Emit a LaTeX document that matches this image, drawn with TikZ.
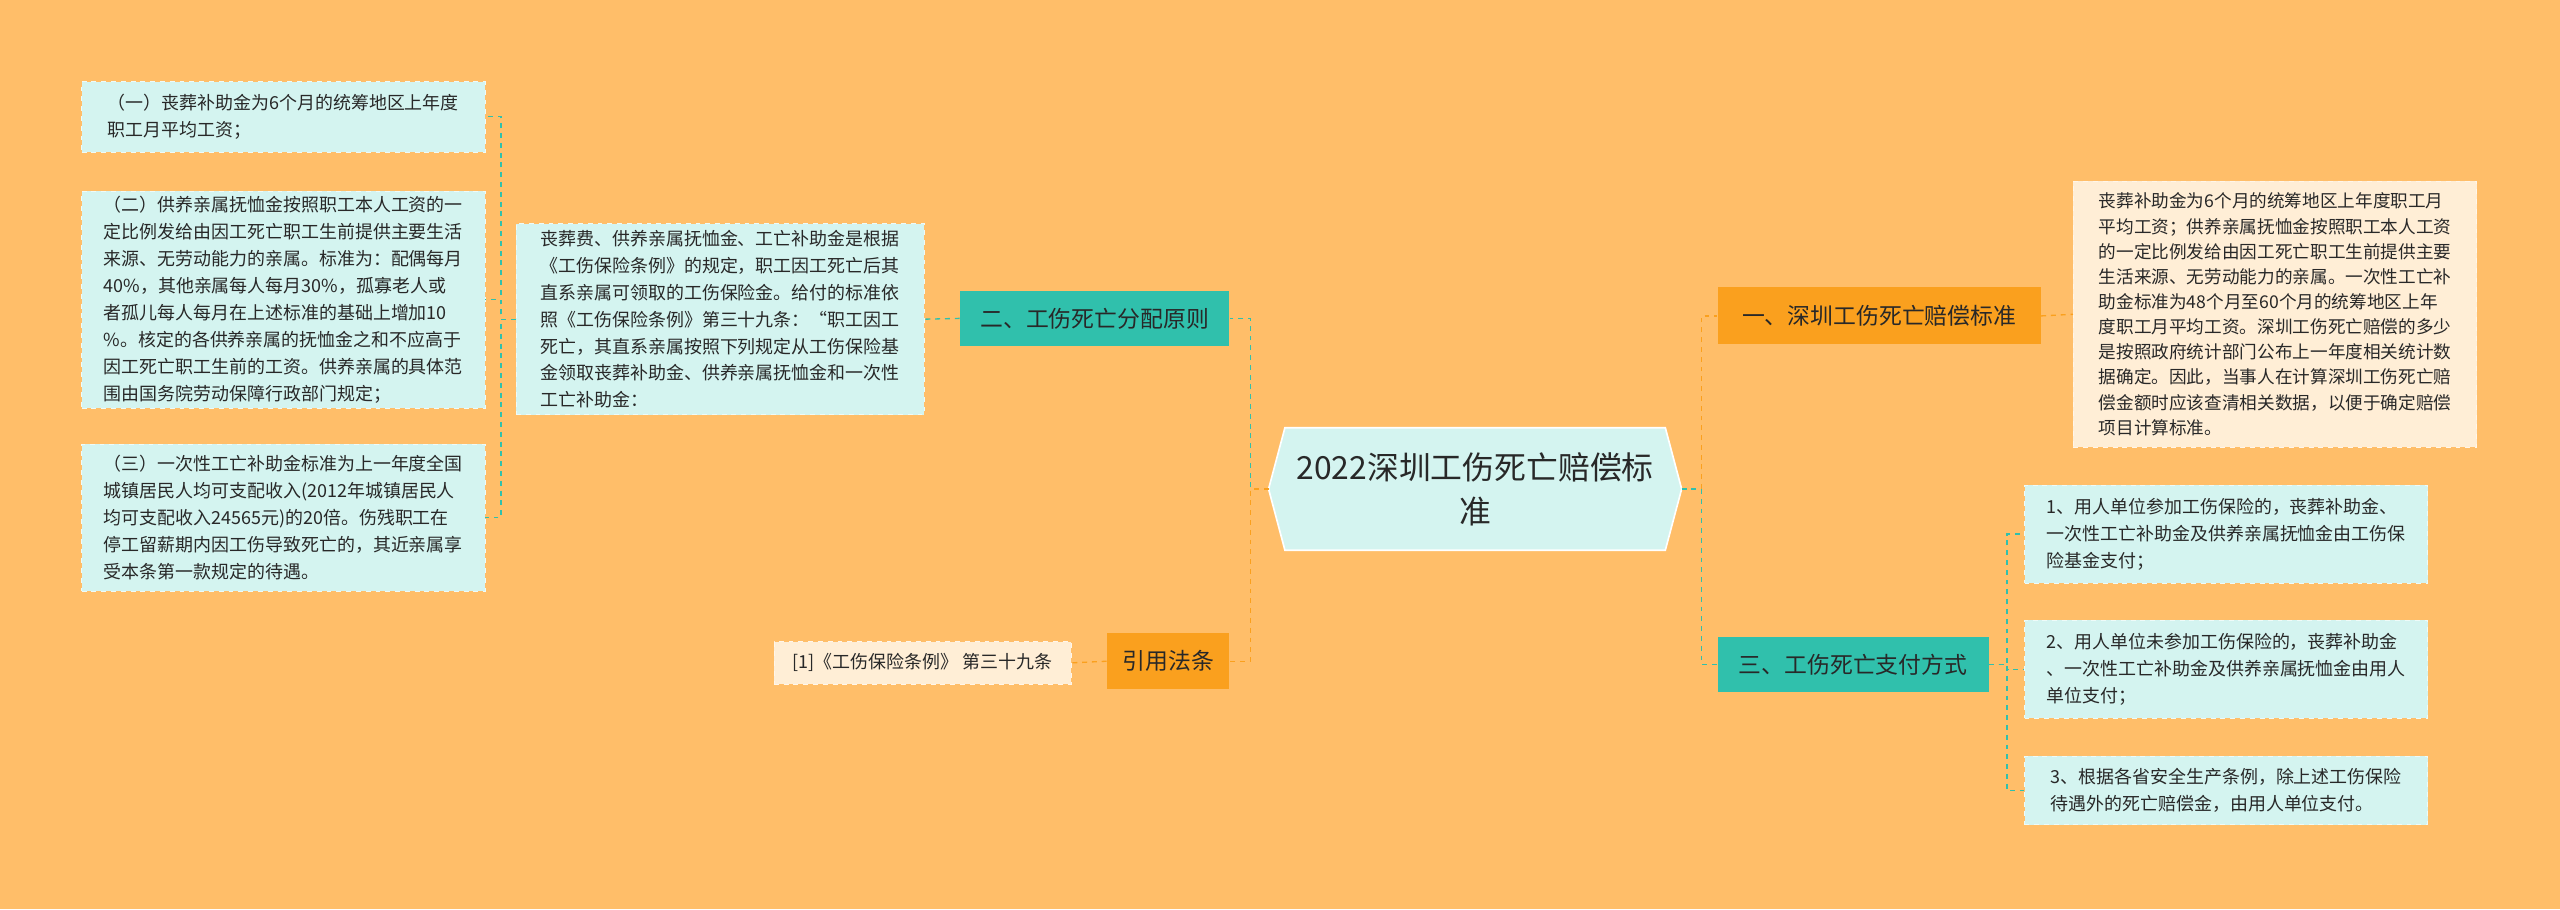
\documentclass[tikz,border=0pt]{standalone}
\usepackage{fontspec}
\setmainfont{Noto Sans CJK SC}
\definecolor{bg}{RGB}{255,190,105}
\definecolor{cy}{RGB}{212,244,240}
\definecolor{cr}{RGB}{255,238,214}
\definecolor{tl}{RGB}{48,192,172}
\definecolor{og}{RGB}{250,160,30}
\definecolor{tx}{RGB}{40,40,40}
\begin{document}
\begin{tikzpicture}[x=1pt,y=-1pt,
  leaf/.style={fill=cy,draw=white!60!cy,dashed,inner sep=0pt,font=\fontsize{11}{16.5}\selectfont,text=tx,align=left,anchor=center},
  crleaf/.style={leaf,fill=cr,draw=white!50!cr},
  tealb/.style={fill=tl,inner sep=0pt,font=\fontsize{14}{18}\selectfont,text=tx,anchor=center},
  orb/.style={fill=og,inner sep=0pt,font=\fontsize{14}{18}\selectfont,text=tx,anchor=center},
  tln/.style={draw=tl,dashed,line width=0.8pt},
  orn/.style={draw=og,dashed,line width=0.8pt}]
\fill[bg] (0,0) rectangle (1568,557);
\useasboundingbox (0,0) rectangle (1568,557);
% center
\coordinate (c) at (903.5,299.5);
\fill[cy,draw=white,line width=1pt] (777,299.5)--(787,262)--(1020,262)--(1030,299.5)--(1020,337)--(787,337)--cycle;
\node[font=\fontsize{19.5}{27}\selectfont,text=tx,align=center,inner sep=0pt] (center) at (c) {2022深圳工伤死亡赔偿标\\准};
\coordinate (cl) at (777,299.5);
\coordinate (cr) at (1030,299.5);
% branches
\node[tealb,minimum width=165pt,minimum height=34pt] (b2) at (670.5,195) {二、工伤死亡分配原则};
\node[orb,minimum width=75pt,minimum height=34pt] (b4) at (715.5,405) {引用法条};
\node[orb,minimum width=198pt,minimum height=35pt] (b1) at (1151,193.5) {一、深圳工伤死亡赔偿标准};
\node[tealb,minimum width=166pt,minimum height=34pt] (b3) at (1135,407) {三、工伤死亡支付方式};
% left description
\node[leaf,minimum width=250pt,minimum height=117pt] (d2) at (441,195.5) {丧葬费、供养亲属抚恤金、工亡补助金是根据\\《工伤保险条例》的规定，职工因工死亡后其\\直系亲属可领取的工伤保险金。给付的标准依\\照《工伤保险条例》第三十九条：“职工因工\\死亡，其直系亲属按照下列规定从工伤保险基\\金领取丧葬补助金、供养亲属抚恤金和一次性\\工亡补助金：};
\node[leaf,minimum width=247pt,minimum height=43pt] (l1) at (173.5,71.5) {（一）丧葬补助金为6个月的统筹地区上年度\\职工月平均工资；};
\node[leaf,minimum width=247pt,minimum height=133pt] (l2) at (173.5,183.5) {（二）供养亲属抚恤金按照职工本人工资的一\\定比例发给由因工死亡职工生前提供主要生活\\来源、无劳动能力的亲属。标准为：配偶每月\\40\%，其他亲属每人每月30\%，孤寡老人或\\者孤儿每人每月在上述标准的基础上增加10\\\%。核定的各供养亲属的抚恤金之和不应高于\\因工死亡职工生前的工资。供养亲属的具体范\\围由国务院劳动保障行政部门规定；};
\node[leaf,minimum width=247pt,minimum height=90pt] (l3) at (173.5,317) {（三）一次性工亡补助金标准为上一年度全国\\城镇居民人均可支配收入(2012年城镇居民人\\均可支配收入24565元)的20倍。伤残职工在\\停工留薪期内因工伤导致死亡的，其近亲属享\\受本条第一款规定的待遇。};
\node[crleaf,minimum width=182pt,minimum height=26pt] (ref) at (565,406) {[1]《工伤保险条例》 第三十九条};
% right
\node[crleaf,minimum width=247pt,minimum height=163pt,font=\fontsize{10.8}{15.4}\selectfont] (d1) at (1393.5,192.5) {丧葬补助金为6个月的统筹地区上年度职工月\\平均工资；供养亲属抚恤金按照职工本人工资\\的一定比例发给由因工死亡职工生前提供主要\\生活来源、无劳动能力的亲属。一次性工亡补\\助金标准为48个月至60个月的统筹地区上年\\度职工月平均工资。深圳工伤死亡赔偿的多少\\是按照政府统计部门公布上一年度相关统计数\\据确定。因此，当事人在计算深圳工伤死亡赔\\偿金额时应该查清相关数据，以便于确定赔偿\\项目计算标准。};
\node[leaf,minimum width=247pt,minimum height=60pt] (r1) at (1363.5,327) {1、用人单位参加工伤保险的，丧葬补助金、\\一次性工亡补助金及供养亲属抚恤金由工伤保\\险基金支付；};
\node[leaf,minimum width=247pt,minimum height=60pt] (r2) at (1363.5,410) {2、用人单位未参加工伤保险的，丧葬补助金\\、一次性工亡补助金及供养亲属抚恤金由用人\\单位支付；};
\node[leaf,minimum width=247pt,minimum height=42pt] (r3) at (1363.5,484) {3、根据各省安全生产条例，除上述工伤保险\\待遇外的死亡赔偿金，由用人单位支付。};
% connectors
\draw[tln] (cl) -- ++(-11,0) |- (b2.east);
\draw[orn] (cl) -- ++(-11,0) |- (b4.east);
\draw[orn] (cr) -- ++(12,0) |- (b1.west);
\draw[tln] (cr) -- ++(12,0) |- (b3.west);
\draw[tln] (b2.west) -- (d2.east);
\draw[orn] (b4.west) -- (ref.east);
\draw[orn] (b1.east) -- (d1.west);
\draw[tln] (d2.west) -- ++(-9,0) |- (l1.east);
\draw[tln] (d2.west) -- ++(-9,0) |- (l2.east);
\draw[tln] (d2.west) -- ++(-9,0) |- (l3.east);
\draw[tln] (b3.east) -- ++(11,0) |- (r1.west);
\draw[tln] (b3.east) -- ++(11,0) |- (r2.west);
\draw[tln] (b3.east) -- ++(11,0) |- (r3.west);
\end{tikzpicture}
\end{document}
